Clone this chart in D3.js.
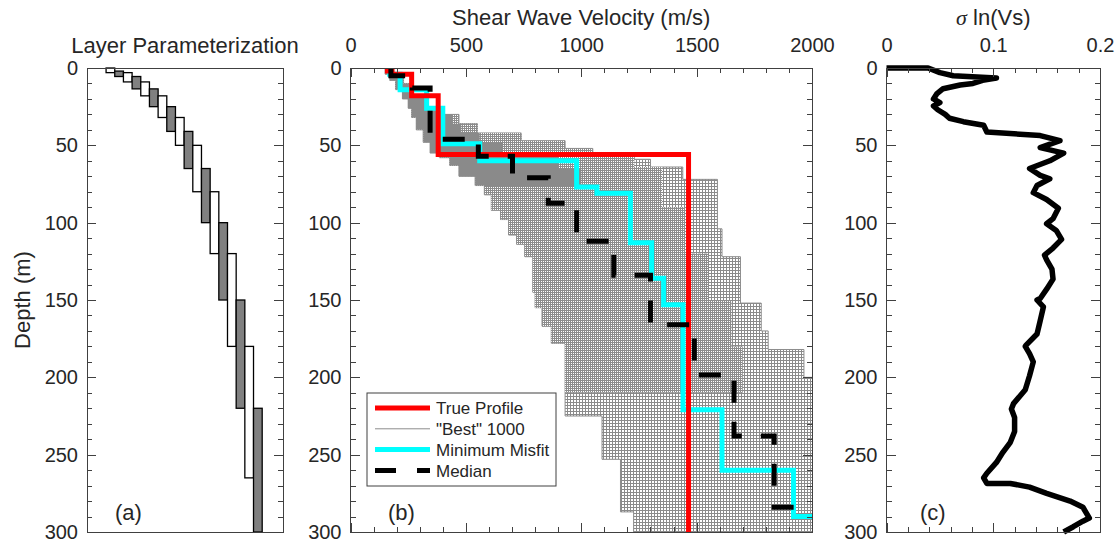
<!DOCTYPE html>
<html>
<head>
<meta charset="utf-8">
<script src="https://cdn.jsdelivr.net/npm/d3@7"></script>
<style>
    body { margin: 0; background: #fff; }
    text { font-family: "Liberation Sans", Arial, sans-serif; fill: #262626; }
</style>
</head>
<body>
<svg id="chart" width="1119" height="546"></svg>
<script>
'use strict';

// (a) layer boundaries, box i spans layerBounds[i] .. layerBounds[i + 2]
const layerBounds = [0, 2, 3, 5.5, 9, 13.5, 18, 25, 32, 41, 50, 65, 80, 100, 120, 150, 180, 220, 265, 300];

// (b) step profiles: layer top depth (m) and Vs (m/s)
const trueDepth = [0, 2, 4, 18, 56];
const trueVel = [160, 180, 265, 380, 1465];
const misfitDepth = [0, 4, 14, 26, 49, 60, 77, 81, 113, 136, 153, 221, 260, 290];
const misfitVel = [170, 215, 330, 400, 560, 980, 1068, 1213, 1305, 1357, 1441, 1610, 1920, 2100];
const medianDepth = [0, 5, 13, 46, 57, 71, 87.5, 112, 134, 166, 198.5, 238, 284];
const medianVel = [175, 268, 345, 554, 702, 857, 980, 1141, 1300, 1490, 1662, 1836, 2100];

// "best" 1000 profiles: envelope
const bestMinDepth = [0, 4, 8, 14, 20, 26, 32, 40, 48, 55, 58, 63, 70, 76, 82, 92, 98, 108, 114, 122, 145, 155, 167, 178, 225, 253, 287];
const bestMinVel = [150, 170, 195, 225, 250, 265, 285, 315, 345, 385, 430, 470, 540, 580, 610, 650, 685, 720, 755, 790, 800, 830, 870, 930, 1090, 1170, 1227];
const bestMaxDepth = [0, 5, 10, 18, 25, 30, 36, 42, 47, 52, 56, 59, 64, 72, 104, 122, 152, 170, 182, 200];
const bestMaxVel = [185, 230, 265, 330, 400, 470, 550, 740, 930, 1050, 1230, 1300, 1440, 1590, 1610, 1690, 1780, 1810, 1965, 2100];
// densest part of the cloud (down to 210 m) and the solid top (down to 77 m)
const denseMaxDepth = [0, 5, 10, 18, 25, 30, 36, 42, 47, 52, 56, 64, 90, 120, 150, 180];
const denseMaxVel = [185, 230, 265, 330, 400, 470, 550, 740, 930, 1050, 1230, 1350, 1450, 1550, 1650, 1700];
const solidMaxDepth = [0, 5, 10, 18, 25, 30, 36, 42, 48, 56, 65];
const solidMaxVel = [185, 230, 265, 330, 400, 440, 480, 560, 660, 900, 1000];

// (c) sigma ln(Vs) vs depth: [depth, value]
const sigmaProfile = [
    [0, 0], [0, 0.039], [3, 0.05], [5, 0.0625], [6.5, 0.103], [8, 0.09], [10, 0.081], [11, 0.069],
    [13.4, 0.053], [16.8, 0.047], [20, 0.044], [22.4, 0.05], [24.6, 0.044], [27, 0.048], [30, 0.055],
    [32.5, 0.059], [34.7, 0.072], [37, 0.091], [41.4, 0.094], [43.7, 0.144], [47, 0.1625], [51.5, 0.144],
    [55, 0.166], [60, 0.153], [65, 0.134], [69.4, 0.144], [71.6, 0.153], [76, 0.141], [80.6, 0.1375],
    [85, 0.15], [90.7, 0.161], [97.4, 0.156], [100.7, 0.15], [105, 0.159], [110.8, 0.164], [116.4, 0.156],
    [121, 0.148], [124, 0.15], [130, 0.155], [136.5, 0.156], [143, 0.15], [149, 0.144], [150, 0.141],
    [154.5, 0.147], [163.4, 0.144], [172, 0.141], [179, 0.131], [180, 0.13], [184.7, 0.134], [190, 0.1375],
    [199, 0.134], [208, 0.13], [217, 0.119], [220.5, 0.117], [226, 0.12], [235, 0.12], [242, 0.116],
    [248.5, 0.109], [255, 0.103], [262, 0.094], [265, 0.091], [268.6, 0.094], [268.6, 0.116], [271, 0.134],
    [275, 0.15], [280, 0.172], [284, 0.184], [291, 0.19], [293, 0.184], [296.6, 0.175], [300, 0.166]
];

const depthMajor = d3.range(0, 301, 50);
const depthMinor = d3.range(0, 301, 10);
const velMajor = d3.range(0, 2001, 500);
const velMinor = d3.range(0, 2001, 100);
const sigMajor = [0, 0.1, 0.2];
const sigMinor = d3.range(0, 0.2001, 0.02);

const legendItems = [
    {label: 'True Profile', color: '#ff0000', width: 5, dash: null},
    {label: '"Best" 1000', color: '#8c8c8c', width: 1, dash: null},
    {label: 'Minimum Misfit', color: '#00ffff', width: 5, dash: null},
    {label: 'Median', color: '#000', width: 5, dash: '21,21'}
];

const yTop = 68, yBottom = 532;
const y = d3.scaleLinear().domain([0, 300]).range([yTop, yBottom]);
const xa = d3.scaleLinear().domain([-2.2, 20.4]).range([87, 283]);
const xb = d3.scaleLinear().domain([0, 2000]).range([350.5, 812]);
const xc = d3.scaleLinear().domain([0, 0.2]).range([886.5, 1100]);

const svg = d3.select('#chart');
const defs = svg.append('defs');

function mesh(id, step, color) {
    const p = defs.append('pattern')
        .attr('id', id)
        .attr('patternUnits', 'userSpaceOnUse')
        .attr('width', step)
        .attr('height', step);
    p.append('rect').attr('width', step).attr('height', step).attr('fill', '#fff');
    p.append('path')
        .attr('d', `M0,0.5H${step}M0.5,0V${step}`)
        .attr('stroke', color)
        .attr('stroke-width', 1)
        .attr('shape-rendering', 'crispEdges');
}
mesh('meshLight', 3, '#8a8a8a');
mesh('meshDense', 2, '#8c8c8c');

defs.append('clipPath').attr('id', 'clipB')
    .append('rect')
    .attr('x', xb(0)).attr('y', yTop)
    .attr('width', xb(2000) - xb(0)).attr('height', yBottom - yTop);

function stepPoints(depths, vels, dEnd) {
    const pts = [];
    depths.forEach((d, i) => {
        if (d >= dEnd) return;
        const below = Math.min(i + 1 < depths.length ? depths[i + 1] : 300, dEnd);
        pts.push([vels[i], d], [vels[i], below]);
    });
    return pts;
}

const lineB = d3.line().x(p => xb(p[0])).y(p => y(p[1]));

function drawYTicks(x0, x1, labels) {
    const g = svg.append('g');
    g.append('g').attr('transform', `translate(${x0},0)`)
        .call(d3.axisLeft(y).tickValues(depthMajor).tickSize(-9).tickPadding(9)
            .tickFormat(labels ? d3.format('d') : ''));
    g.append('g').attr('transform', `translate(${x0},0)`)
        .call(d3.axisLeft(y).tickValues(depthMinor).tickSize(-5).tickFormat(''));
    g.append('g').attr('transform', `translate(${x1},0)`)
        .call(d3.axisRight(y).tickValues(depthMajor).tickSize(-9).tickFormat(''));
    g.append('g').attr('transform', `translate(${x1},0)`)
        .call(d3.axisRight(y).tickValues(depthMinor).tickSize(-5).tickFormat(''));
    styleAxis(g);
}

function drawXTicks(x, major, minor, fmt) {
    const g = svg.append('g');
    g.append('g').attr('transform', `translate(0,${yTop})`)
        .call(d3.axisTop(x).tickValues(major).tickSize(-9).tickPadding(16).tickFormat(fmt));
    g.append('g').attr('transform', `translate(0,${yTop})`)
        .call(d3.axisTop(x).tickValues(minor).tickSize(-5).tickFormat(''));
    g.append('g').attr('transform', `translate(0,${yBottom})`)
        .call(d3.axisBottom(x).tickValues(major).tickSize(-9).tickFormat(''));
    g.append('g').attr('transform', `translate(0,${yBottom})`)
        .call(d3.axisBottom(x).tickValues(minor).tickSize(-5).tickFormat(''));
    styleAxis(g);
}

function styleAxis(g) {
    g.selectAll('.domain').remove();
    g.selectAll('g').attr('font-size', null).attr('font-family', null);
    g.selectAll('line').attr('stroke', '#404040').attr('shape-rendering', 'crispEdges');
    g.selectAll('text').attr('font-size', 20).attr('fill', '#262626');
}

function frame(x0, x1) {
    svg.append('rect')
        .attr('x', x0).attr('y', yTop)
        .attr('width', x1 - x0).attr('height', yBottom - yTop)
        .attr('fill', 'none')
        .attr('stroke', '#404040')
        .attr('stroke-width', 1)
        .attr('shape-rendering', 'crispEdges');
}

// ---- panel (a)
const boxes = d3.range(layerBounds.length - 2).map(i => ({
    i, depthTop: layerBounds[i], depthBot: layerBounds[i + 2], shaded: i % 2 === 1
}));
svg.append('g')
    .selectAll('rect')
    .data(boxes)
    .join('rect')
    .attr('x', d => xa(d.i))
    .attr('width', d => xa(d.i + 1) - xa(d.i))
    .attr('y', d => y(d.depthTop))
    .attr('height', d => y(d.depthBot) - y(d.depthTop))
    .attr('fill', d => d.shaded ? '#808080' : '#fff')
    .attr('stroke', '#000')
    .attr('stroke-width', 1.3);
drawYTicks(87, 283, true);
frame(87, 283);

svg.append('text').attr('x', 185).attr('y', 53).attr('text-anchor', 'middle')
    .attr('font-size', 22).text('Layer Parameterization');
svg.append('text').attr('transform', 'translate(30,300) rotate(-90)').attr('text-anchor', 'middle')
    .attr('font-size', 22).text('Depth (m)');
svg.append('text').attr('x', 115).attr('y', 520).attr('font-size', 22).text('(a)');

// ---- panel (b)
const gb = svg.append('g').attr('clip-path', 'url(#clipB)');

function cloud(maxDepth, maxVel, dEnd, fill, stroke) {
    const pts = stepPoints(bestMinDepth, bestMinVel, dEnd)
        .concat(stepPoints(maxDepth, maxVel, dEnd).reverse());
    gb.append('path')
        .attr('d', lineB(pts) + 'Z')
        .attr('fill', fill)
        .attr('stroke', stroke)
        .attr('stroke-width', 1);
}
cloud(bestMaxDepth, bestMaxVel, 300, 'url(#meshLight)', '#8c8c8c');
cloud(denseMaxDepth, denseMaxVel, 210, 'url(#meshDense)', 'none');
cloud(solidMaxDepth, solidMaxVel, 77, '#8a8a8a', 'none');

function profile(depths, vels, color, dash) {
    gb.append('path')
        .attr('d', lineB(stepPoints(depths, vels, 300)))
        .attr('fill', 'none')
        .attr('stroke', color)
        .attr('stroke-width', 5)
        .attr('stroke-dasharray', dash);
}
profile(misfitDepth, misfitVel, '#00ffff', null);
profile(trueDepth, trueVel, '#ff0000', null);
profile(medianDepth, medianVel, '#000', '22,19');

drawYTicks(xb(0), xb(2000), true);
drawXTicks(xb, velMajor, velMinor, d3.format('d'));
frame(xb(0), xb(2000));

svg.append('text').attr('x', (xb(0) + xb(2000)) / 2).attr('y', 25).attr('text-anchor', 'middle')
    .attr('font-size', 22).text('Shear Wave Velocity (m/s)');
svg.append('text').attr('x', 388).attr('y', 520).attr('font-size', 22).text('(b)');

const legend = svg.append('g');
legend.append('rect')
    .attr('x', 367).attr('y', 393).attr('width', 189).attr('height', 93)
    .attr('fill', '#fff').attr('stroke', '#404040').attr('stroke-width', 1);
const item = legend.selectAll('g.item')
    .data(legendItems)
    .join('g')
    .attr('class', 'item')
    .attr('transform', (d, i) => `translate(0,${408 + i * 20.8})`);
item.append('line')
    .attr('x1', 375).attr('x2', 430)
    .attr('stroke', d => d.color)
    .attr('stroke-width', d => d.width)
    .attr('stroke-dasharray', d => d.dash);
item.append('text')
    .attr('x', 436).attr('dy', '0.36em')
    .attr('font-size', 17).attr('fill', '#000')
    .text(d => d.label);

// ---- panel (c)
svg.append('path')
    .attr('d', d3.line().x(p => xc(p[1])).y(p => y(p[0]))(sigmaProfile))
    .attr('fill', 'none')
    .attr('stroke', '#000')
    .attr('stroke-width', 5.5)
    .attr('stroke-linejoin', 'round');

drawYTicks(xc(0), xc(0.2), true);
drawXTicks(xc, sigMajor, sigMinor, d => d === 0 ? '0' : d3.format('.1f')(d));
frame(xc(0), xc(0.2));

const sigTitle = svg.append('text').attr('x', (xc(0) + xc(0.2)) / 2).attr('y', 25)
    .attr('text-anchor', 'middle').attr('font-size', 22);
sigTitle.append('tspan').attr('font-family', '"Liberation Serif", serif').attr('font-style', 'italic').text('σ');
sigTitle.append('tspan').text(' ln(Vs)');
svg.append('text').attr('x', 920).attr('y', 520).attr('font-size', 22).text('(c)');
</script>
</body>
</html>
